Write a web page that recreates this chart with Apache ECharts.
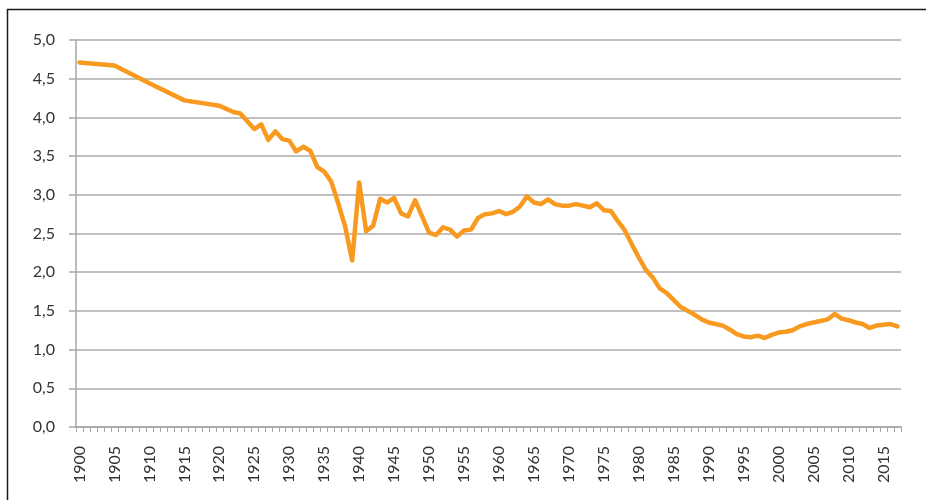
<!DOCTYPE html>
<html>
<head>
<meta charset="utf-8">
<script src="https://cdn.jsdelivr.net/npm/echarts@6/dist/echarts.min.js"></script>
<style>
html,body{margin:0;padding:0;background:#fff;}
#chart{width:926px;height:500px;}
</style>
</head>
<body>
<div id="chart"></div>
<script>
// Years 1900..2017
const startYear = 1900;
const endYear = 2017;
// Values (null = no vertex drawn, line connects across)
const values = [
  4.71, null, null, null, null, // 1900-1904
  4.67, null, null, null, null, // 1905-1909
  4.44, null, null, null, null, // 1910-1914
  4.22, null, null, null, null, // 1915-1919
  4.15, 4.11, 4.07, 4.05, 3.95, // 1920-1924
  3.85, 3.91, 3.71, 3.82, 3.72, // 1925-1929
  3.70, 3.56, 3.62, 3.57, 3.36, // 1930-1934
  3.30, 3.17, 2.89, 2.59, 2.15, // 1935-1939
  3.16, 2.53, 2.60, 2.95, 2.90, // 1940-1944
  2.96, 2.76, 2.72, 2.93, 2.72, // 1945-1949
  2.51, 2.48, 2.58, 2.55, 2.46, // 1950-1954
  2.54, 2.55, 2.70, 2.75, 2.76, // 1955-1959
  2.79, 2.75, 2.78, 2.85, 2.98, // 1960-1964
  2.90, 2.88, 2.94, 2.88, 2.86, // 1965-1969
  2.86, 2.88, 2.86, 2.84, 2.89, // 1970-1974
  2.80, 2.79, 2.66, 2.54, 2.36, // 1975-1979
  2.19, 2.03, 1.93, 1.79, 1.73, // 1980-1984
  1.64, 1.55, 1.50, 1.45, 1.39, // 1985-1989
  1.35, 1.33, 1.31, 1.26, 1.20, // 1990-1994
  1.17, 1.16, 1.18, 1.15, 1.19, // 1995-1999
  1.22, 1.23, 1.25, 1.30, 1.33, // 2000-2004
  1.35, 1.37, 1.39, 1.46, 1.40, // 2005-2009
  1.38, 1.35, 1.33, 1.28, 1.31, // 2010-2014
  1.32, 1.33, 1.30              // 2015-2017
];
const categories = [];
for (let y = startYear; y <= endYear; y++) categories.push(String(y));

const chart = echarts.init(document.getElementById('chart'), null, {renderer: 'canvas'});
const FONT = 'Lato';
chart.setOption({
  animation: false,
  backgroundColor: '#ffffff',
  graphic: [{
    type: 'rect',
    silent: true,
    shape: {x: 7.5, y: 9.5, width: 1000, height: 600},
    style: {fill: 'none', stroke: '#1a1a1a', lineWidth: 1.5}
  }],
  grid: {left: 76, right: 25, top: 40, bottom: 73, containLabel: false},
  xAxis: {
    type: 'category',
    data: categories,
    boundaryGap: true,
    axisLine: {show: true, lineStyle: {color: '#A6A6A6', width: 1.5}},
    axisTick: {show: true, interval: 0, length: 5, lineStyle: {color: '#A6A6A6', width: 1}},
    axisLabel: {
      interval: 4,
      rotate: 90,
      margin: 19,
      fontFamily: FONT,
      fontSize: 16,
      color: '#333333'
    },
    splitLine: {show: false}
  },
  yAxis: {
    type: 'value',
    min: 0,
    max: 5,
    interval: 0.5,
    axisLine: {show: true, lineStyle: {color: '#A6A6A6', width: 1.5}},
    axisTick: {show: true, length: 7, lineStyle: {color: '#A6A6A6', width: 1.5}},
    axisLabel: {
      margin: 21,
      fontFamily: FONT,
      fontSize: 16,
      color: '#333333',
      formatter: v => v.toFixed(1).replace('.', ',')
    },
    splitLine: {show: true, lineStyle: {color: '#ABABAB', width: 1.5}}
  },
  series: [{
    type: 'line',
    data: values,
    connectNulls: true,
    showSymbol: false,
    symbol: 'none',
    lineStyle: {color: '#F79A1F', width: 4.5, join: 'round', cap: 'round'},
    itemStyle: {color: '#F79A1F'}
  }]
});
</script>
</body>
</html>
